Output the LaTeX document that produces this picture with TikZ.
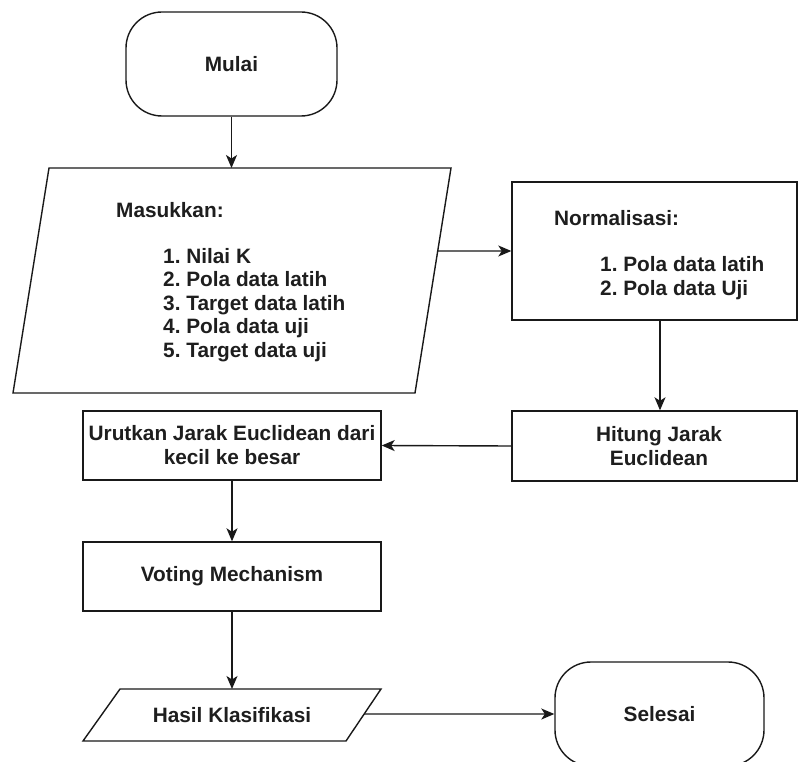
\documentclass[tikz,border=0pt]{standalone}
\usepackage{fontspec}
\setmainfont{Liberation Sans}
\usetikzlibrary{arrows.meta}
\definecolor{txtcol}{RGB}{30,30,30}
\definecolor{linecol}{RGB}{25,25,25}
\frenchspacing
\begin{document}
\begin{tikzpicture}[x=1pt,y=-1pt,
  line/.style={draw=linecol, line width=1.4pt},
  arr/.style={line, -{Stealth[length=13pt,width=11pt,inset=3.5pt]}},
  txt/.style={font=\fontsize{20.8}{24}\selectfont\bfseries\frenchspacing, text=txtcol, inner sep=0pt},
  box/.style={line, rectangle, inner sep=0pt, fill=white},
  term/.style={box, rounded corners=36pt, minimum width=211pt, minimum height=104pt}]
\clip (0,0) rectangle (798,762);
\fill[white] (0,0) rectangle (798,762);
% Start
\node[term, txt] (start) at (231.5,64) {Mulai};
% Input parallelogram
\coordinate (inTL) at (49,168);
\coordinate (inTR) at (451,168);
\coordinate (inBR) at (415,393);
\coordinate (inBL) at (13,393);
\draw[line, fill=white] (inTL) -- (inTR) -- (inBR) -- (inBL) -- cycle;
\node[txt, anchor=base west] (inH) at (116,218) {Masukkan:};
\node[txt, anchor=base west] (in1) at (163,263) {1. Nilai K};
\node[txt, anchor=base west] (in2) at (163,287) {2. Pola data latih};
\node[txt, anchor=base west] (in3) at (163,310) {3. Target data latih};
\node[txt, anchor=base west] (in4) at (163,333.5) {4. Pola data uji};
\node[txt, anchor=base west] (in5) at (163,357) {5. Target data uji};
% Normalisasi
\node[box, minimum width=285pt, minimum height=138pt] (nrm) at (654.5,251) {};
\node[txt, anchor=base west] (nrmH) at (554,226) {Normalisasi:};
\node[txt, anchor=base west] (nrm1) at (600,271.5) {1. Pola data latih};
\node[txt, anchor=base west] (nrm2) at (600,295) {2. Pola data Uji};
% Hitung
\node[box, minimum width=285pt, minimum height=70pt] (hit) at (654.5,446) {};
\node[txt, align=center] (hitT) at (659,446) {Hitung Jarak\\Euclidean};
% Urutkan
\node[box, txt, align=center, minimum width=298pt, minimum height=69pt] (urt) at (232,445.5) {Urutkan Jarak Euclidean dari\\kecil ke besar};
% Voting
\node[box, txt, minimum width=298pt, minimum height=69pt] (vot) at (232,576.5) {Voting Mechanism};
% Hasil parallelogram
\coordinate (hasTL) at (120,689);
\coordinate (hasTR) at (381,689);
\coordinate (hasBR) at (346,741);
\coordinate (hasBL) at (83,741);
\draw[line, fill=white] (hasTL) -- (hasTR) -- (hasBR) -- (hasBL) -- cycle;
\node[txt] (hasT) at (232,715) {Hasil Klasifikasi};
% End
\node[term, txt, minimum width=209pt] (end) at (659.5,714) {Selesai};
% Connectors
\draw[arr] (start.south) -- (start.south |- inTL);
\draw[arr] (intersection of inTR--inBR and nrm.west--nrm.east) -- (nrm.west);
\draw[arr] ([xshift=5.5pt]nrm.south) -- ([xshift=5.5pt]hit.north);
\draw[arr] (hit.west) -- (urt.east);
\draw[arr] (urt.south) -- (vot.north);
\draw[arr] (vot.south) -- (vot.south |- hasTL);
\draw[arr] (intersection of hasTR--hasBR and end.west--end.east) -- (end.west);
\end{tikzpicture}
\end{document}
